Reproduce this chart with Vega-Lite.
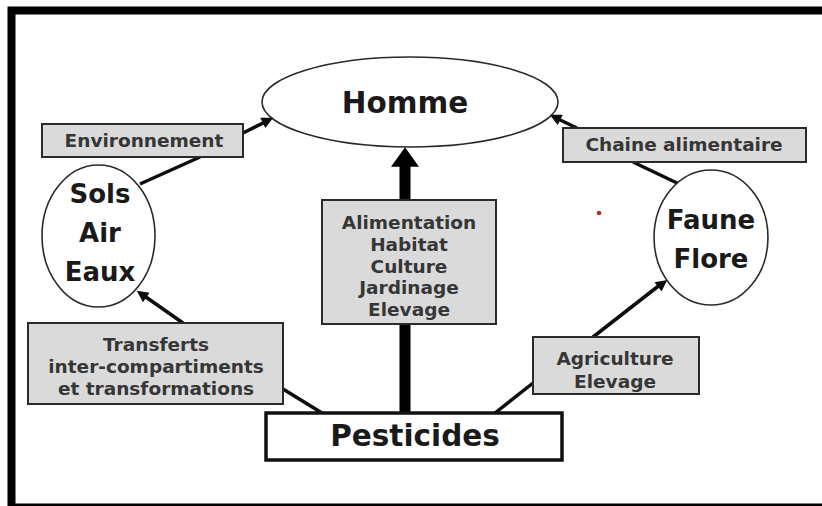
{
  "$schema": "https://vega.github.io/schema/vega-lite/v6.json",
  "width": 822,
  "height": 506,
  "padding": 0,
  "autosize": {"type": "none"},
  "background": "white",
  "config": {"view": {"stroke": null}},
  "datasets": {
    "frame": [{"x": 11.5, "x2": 832, "y": 10.5, "y2": 507.5}],
    "links": [
      {"from": "Environnement", "to": "Homme", "x": 243, "y": 133, "x2": 267, "y2": 121},
      {"from": "Chaine alimentaire", "to": "Homme", "x": 577, "y": 128, "x2": 556, "y2": 118},
      {"from": "Transferts", "to": "Sols Air Eaux", "x": 183, "y": 323, "x2": 143, "y2": 295},
      {"from": "Agriculture", "to": "Faune Flore", "x": 593, "y": 337, "x2": 661, "y2": 284},
      {"from": "Sols Air Eaux", "to": "Environnement", "x": 140, "y": 184, "x2": 200, "y2": 157},
      {"from": "Pesticides", "to": "Transferts", "x": 322, "y": 413, "x2": 283, "y2": 389},
      {"from": "Pesticides", "to": "Agriculture", "x": 495, "y": 413, "x2": 533, "y2": 383},
      {"from": "Faune Flore", "to": "Chaine alimentaire", "x": 677, "y": 183, "x2": 633, "y2": 162}
    ],
    "mainLink": [{"from": "Pesticides", "to": "Homme", "x": 405, "y": 413, "x2": 405, "y2": 162}],
    "heads": [
      {"to": "Homme", "x": 266.7, "y": 121, "a": 64.2},
      {"to": "Homme", "x": 556.3, "y": 118, "a": -64.3},
      {"to": "Sols Air Eaux", "x": 142.7, "y": 295, "a": -55.2},
      {"to": "Faune Flore", "x": 661.5, "y": 284.3, "a": 52.4}
    ],
    "mainHead": [{"to": "Homme", "x": 405, "y": 157, "a": 0}],
    "boxes": [
      {"name": "Environnement", "x": 42, "x2": 243, "y": 124, "y2": 157},
      {"name": "Chaine alimentaire", "x": 563, "x2": 806, "y": 128, "y2": 162},
      {"name": "Alimentation", "x": 322, "x2": 496, "y": 200, "y2": 324},
      {"name": "Transferts", "x": 28, "x2": 283, "y": 323, "y2": 404},
      {"name": "Agriculture", "x": 533, "x2": 699, "y": 337, "y2": 394}
    ],
    "pestBox": [{"name": "Pesticides", "x": 266, "x2": 562, "y": 413, "y2": 460}],
    "homme": [{"name": "Homme", "x": 410, "y": 102}],
    "sols": [{"name": "Sols Air Eaux", "x": 98.5, "y": 236}],
    "faune": [{"name": "Faune Flore", "x": 711, "y": 237.5}],
    "boxLabels": [
      {"t": "Environnement", "x": 144, "y": 141},
      {"t": "Chaine alimentaire", "x": 684, "y": 145},
      {"t": "Alimentation", "x": 409, "y": 223},
      {"t": "Habitat", "x": 409, "y": 245},
      {"t": "Culture", "x": 409, "y": 267},
      {"t": "Jardinage", "x": 409, "y": 288},
      {"t": "Elevage", "x": 409, "y": 310},
      {"t": "Transferts", "x": 156, "y": 345},
      {"t": "inter-compartiments", "x": 156, "y": 367},
      {"t": "et transformations", "x": 156, "y": 389},
      {"t": "Agriculture", "x": 615, "y": 359},
      {"t": "Elevage", "x": 615, "y": 382}
    ],
    "nodeLabels": [
      {"t": "Sols", "x": 100, "y": 195},
      {"t": "Air", "x": 100, "y": 234},
      {"t": "Eaux", "x": 100, "y": 273},
      {"t": "Faune", "x": 711, "y": 221},
      {"t": "Flore", "x": 711, "y": 260}
    ],
    "mainLabels": [
      {"t": "Homme", "x": 405, "y": 104},
      {"t": "Pesticides", "x": 415, "y": 437}
    ],
    "dot": [{"x": 599, "y": 213}]
  },
  "encoding": {
    "x": {"field": "x", "type": "quantitative", "axis": null, "scale": {"domain": [0, 822], "nice": false, "zero": false}},
    "y": {"field": "y", "type": "quantitative", "axis": null, "scale": {"domain": [0, 506], "nice": false, "zero": false, "reverse": true}}
  },
  "layer": [
    {
      "data": {"name": "frame"},
      "mark": {"type": "rect", "fillOpacity": 0, "stroke": "#000000", "strokeWidth": 8},
      "encoding": {"x2": {"field": "x2"}, "y2": {"field": "y2"}}
    },
    {
      "data": {"name": "links"},
      "mark": {"type": "rule", "stroke": "#0d0d0d", "strokeWidth": 3.5},
      "encoding": {"x2": {"field": "x2"}, "y2": {"field": "y2"}}
    },
    {
      "data": {"name": "mainLink"},
      "mark": {"type": "rule", "stroke": "#000000", "strokeWidth": 11},
      "encoding": {"x2": {"field": "x2"}, "y2": {"field": "y2"}}
    },
    {
      "data": {"name": "boxes"},
      "mark": {"type": "rect", "fill": "#dadada", "stroke": "#2a2a2a", "strokeWidth": 2},
      "encoding": {"x2": {"field": "x2"}, "y2": {"field": "y2"}}
    },
    {
      "data": {"name": "pestBox"},
      "mark": {"type": "rect", "fill": "#ffffff", "stroke": "#111111", "strokeWidth": 3.5},
      "encoding": {"x2": {"field": "x2"}, "y2": {"field": "y2"}}
    },
    {
      "data": {"name": "homme"},
      "mark": {"type": "point", "shape": "M-1,0A1,0.304 0 1,1 1,0A1,0.304 0 1,1 -1,0Z", "size": 87616, "filled": true, "fill": "#ffffff", "stroke": "#2a2a2a", "strokeWidth": 1.6, "opacity": 1}
    },
    {
      "data": {"name": "sols"},
      "mark": {"type": "point", "shape": "M-0.796,0A0.796,1 0 1,1 0.796,0A0.796,1 0 1,1 -0.796,0Z", "size": 20164, "filled": true, "fill": "#ffffff", "stroke": "#2a2a2a", "strokeWidth": 1.6, "opacity": 1}
    },
    {
      "data": {"name": "faune"},
      "mark": {"type": "point", "shape": "M-0.844,0A0.844,1 0 1,1 0.844,0A0.844,1 0 1,1 -0.844,0Z", "size": 18225, "filled": true, "fill": "#ffffff", "stroke": "#2a2a2a", "strokeWidth": 1.6, "opacity": 1}
    },
    {
      "data": {"name": "heads"},
      "mark": {"type": "point", "shape": "M0,-1L0.8,0.6L-0.8,0.6Z", "size": 210, "filled": true, "fill": "#0d0d0d", "opacity": 1},
      "encoding": {"angle": {"field": "a", "type": "quantitative", "scale": null}}
    },
    {
      "data": {"name": "mainHead"},
      "mark": {"type": "point", "shape": "M0,-0.7L1,0.7L-1,0.7Z", "size": 784, "filled": true, "fill": "#000000", "opacity": 1},
      "encoding": {"angle": {"field": "a", "type": "quantitative", "scale": null}}
    },
    {
      "data": {"name": "boxLabels"},
      "mark": {"type": "text", "font": "DejaVu Sans", "fontWeight": "bold", "fontSize": 18.5, "fill": "#363636", "align": "center", "baseline": "middle"},
      "encoding": {"text": {"field": "t"}}
    },
    {
      "data": {"name": "nodeLabels"},
      "mark": {"type": "text", "font": "DejaVu Sans", "fontWeight": "bold", "fontSize": 26, "fill": "#1a1a1a", "align": "center", "baseline": "middle"},
      "encoding": {"text": {"field": "t"}}
    },
    {
      "data": {"name": "mainLabels"},
      "mark": {"type": "text", "font": "DejaVu Sans", "fontWeight": "bold", "fontSize": 29.5, "fill": "#1a1a1a", "align": "center", "baseline": "middle"},
      "encoding": {"text": {"field": "t"}}
    },
    {
      "data": {"name": "dot"},
      "mark": {"type": "point", "shape": "circle", "size": 22, "filled": true, "fill": "#b5302c", "opacity": 1}
    }
  ]
}
